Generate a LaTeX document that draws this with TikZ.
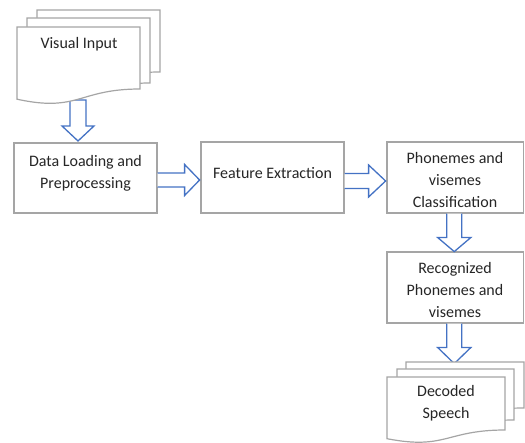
\documentclass[tikz,border=0pt]{standalone}
\usepackage{fontspec}
\setmainfont{Carlito}
\definecolor{boxgray}{HTML}{A5A5A5}
\definecolor{arrblue}{HTML}{4472C4}
\tikzset{
  box/.style={draw=boxgray, line width=1.2pt, fill=white, inner sep=0pt},
  docshape/.style={draw=boxgray, line width=1.2pt, fill=white},
  blockarrow/.style={draw=arrblue, line width=1.3pt, fill=white, line join=miter},
  lbl/.style={align=center, font=\fontsize{16}{22}\selectfont, inner sep=0pt, text=black!85}
}
% x1 y1 x2 yright yleft
\newcommand\mydoc[5]{%
  \path[docshape] (#1,#2) -- (#3,#2) -- (#3,#4)
    .. controls ({(#1+#3)/2},#4) and ({(#1+#3)/2},{#5+1.314*(#5-#4)}) .. (#1,#5) -- cycle;}
\begin{document}
\begin{tikzpicture}[x=1pt,y=-1pt]
\useasboundingbox (0,0) rectangle (525,443);

% ---- block arrows (drawn first, tails hidden under shapes)
\coordinate (a1) at (78,100);
\draw[blockarrow, shift={(a1)}] (-8,0) -- (8,0) -- (8,26) -- (16,26) -- (0,41) -- (-16,26) -- (-8,26) -- cycle;

% ---- Visual Input document stack
\mydoc{37}{10}{160}{72}{82}
\mydoc{27}{18}{150}{83}{93.7}
\mydoc{17}{27}{140}{89}{99.2}
\node[lbl] (vi) at (79,44) {Visual Input};

% ---- process boxes
\node[box, minimum width=143pt, minimum height=70pt] (dl) at (85.5,178) {};
\node[box, minimum width=143pt, minimum height=71pt] (fe) at (272.5,177.5) {};
\node[box, minimum width=136.5pt, minimum height=71pt] (pc) at (455.25,177.5) {};
\node[box, minimum width=136.5pt, minimum height=71pt] (rp) at (455.25,287.5) {};

\node[lbl] (dlt) at (85.5,173.5) {Data Loading and\\Preprocessing};
\node[lbl] (fet) at (272.5,173) {Feature Extraction};
\node[lbl] (pct) at (455,180) {Phonemes and\\visemes\\Classification};
\node[lbl] (rpt) at (455,290) {Recognized\\Phonemes and\\visemes};

% ---- horizontal arrows
\draw[blockarrow, shift={([yshift=-2pt]dl.east)}] (0,-7) -- (27,-7) -- (27,-15.5) -- (42,0) -- (27,15.5) -- (27,7) -- (0,7);
\draw[blockarrow, shift={([yshift=-3.5pt]fe.east)}] (0,-7.5) -- (24,-7.5) -- (24,-16) -- (41,0) -- (24,16) -- (24,7.5) -- (0,7.5);

% ---- vertical arrows on the right
\draw[blockarrow, shift={([xshift=-1pt]pc.south)}] (-7.5,0) -- (-7.5,24) -- (-16.5,24) -- (0,38) -- (16.5,24) -- (7.5,24) -- (7.5,0);
\draw[blockarrow, shift={([xshift=-1pt]rp.south)}] (-7.5,0) -- (-7.5,24) -- (-16.5,24) -- (0,40) -- (16.5,24) -- (7.5,24) -- (7.5,0);

% ---- Decoded Speech document stack
\mydoc{406}{362}{524}{408}{415.6}
\mydoc{397}{369}{514}{420}{428.4}
\mydoc{387}{377}{505}{430}{438.7}
\node[lbl] (ds) at (446,403) {Decoded\\Speech};
\end{tikzpicture}
\end{document}
